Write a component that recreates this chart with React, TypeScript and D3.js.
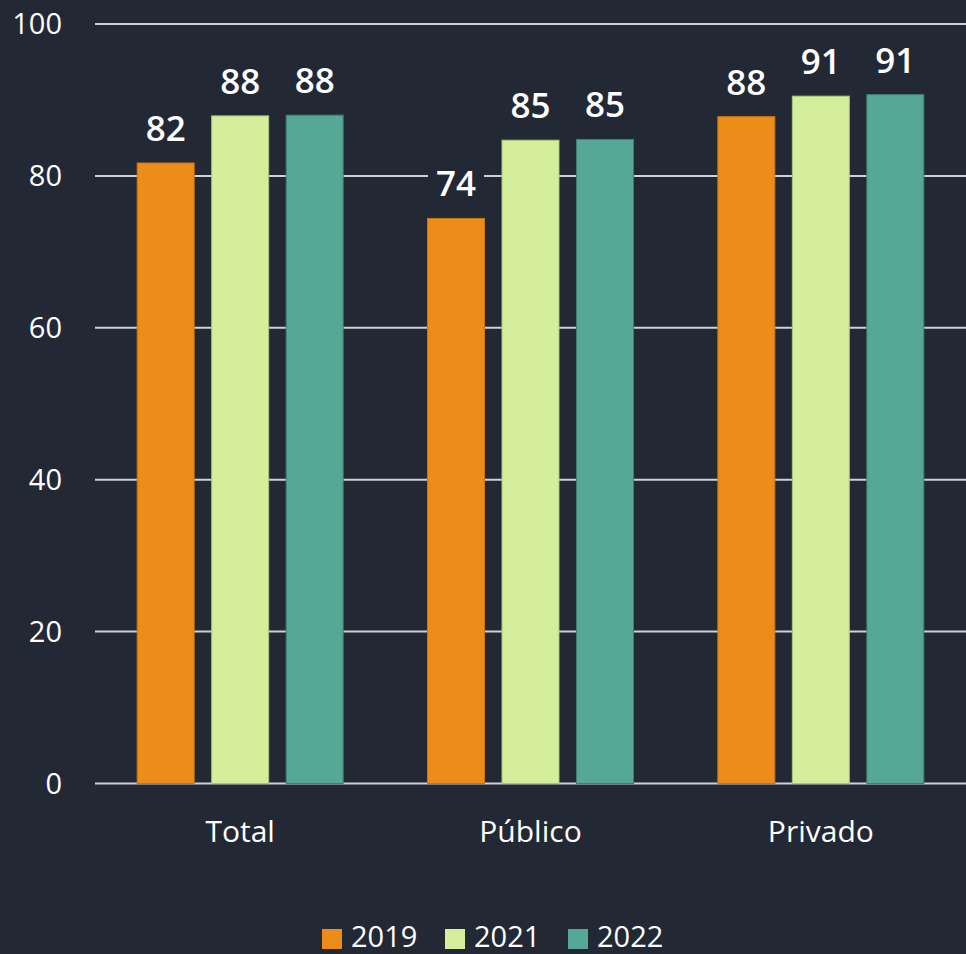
import React, { useEffect } from 'react';
import * as d3 from 'd3';

// Chart data (labels shown rounded)
const categories = ['Total', 'Público', 'Privado'];
const years = ['2019', '2021', '2022'];
const values2019 = [81.7, 74.4, 87.8];
const values2021 = [87.9, 84.7, 90.5];
const values2022 = [88.0, 84.8, 90.7];
const yTicks = [0, 20, 40, 60, 80, 100];

const seriesValues = [values2019, values2021, values2022];
const colors = ['#ee8c1a', '#d5ee9c', '#55a896'];
const strokes = ['#c97410', '#a9c47a', '#3f7f72'];

const W = 966;
const H = 954;
const BG = '#222935';
const FONT = '"Open Sans", "Noto Sans", sans-serif';

const App: React.FC = () => {
  useEffect(() => {
    document.body.style.margin = '0';
    document.body.style.background = BG;
  }, []);

  const x0 = d3.scaleBand<string>().domain(categories).range([95, 966]);
  const x1 = d3
    .scaleBand<string>()
    .domain(years)
    .range([0, x0.bandwidth()])
    .paddingInner(0.235)
    .paddingOuter(0.566);
  const y = d3.scaleLinear().domain([0, 100]).range([783.5, 24]);

  return (
    <svg width={W} height={H} style={{ display: 'block', background: BG }} fontFamily={FONT}>
      <rect x={0} y={0} width={W} height={H} fill={BG} />

      {/* gridlines and y ticks */}
      {yTicks.map((t) => (
        <g key={t}>
          <line x1={95} x2={W} y1={y(t)} y2={y(t)} stroke="#cfd1d4" strokeWidth={2} />
          <text x={62} y={y(t)} dy="0.36em" textAnchor="end" fill="#ffffff" fontSize={29}>
            {t}
          </text>
        </g>
      ))}

      {/* bars */}
      {categories.map((c, ci) => (
        <g key={c} transform={`translate(${x0(c)},0)`}>
          {years.map((yr, si) => {
            const v = seriesValues[si][ci];
            const bx = x1(yr) as number;
            return (
              <rect
                key={yr}
                x={bx}
                y={y(v)}
                width={x1.bandwidth()}
                height={y(0) - y(v)}
                fill={colors[si]}
                stroke={strokes[si]}
                strokeWidth={1}
              />
            );
          })}
        </g>
      ))}

      {/* value labels with background */}
      {categories.map((c, ci) => (
        <g key={c} transform={`translate(${x0(c)},0)`}>
          {years.map((yr, si) => {
            const v = seriesValues[si][ci];
            const cx = (x1(yr) as number) + x1.bandwidth() / 2;
            const base = y(v) - 22;
            return (
              <g key={yr}>
                <rect x={cx - 28} y={base - 32} width={56} height={40} fill={BG} />
                <text
                  x={cx}
                  y={base}
                  textAnchor="middle"
                  fill="#ffffff"
                  fontSize={35}
                  fontWeight={600}
                >
                  {Math.round(v)}
                </text>
              </g>
            );
          })}
        </g>
      ))}

      {/* category labels */}
      {categories.map((c) => (
        <text
          key={c}
          x={(x0(c) as number) + x0.bandwidth() / 2}
          y={842}
          textAnchor="middle"
          fill="#ffffff"
          fontSize={30}
        >
          {c}
        </text>
      ))}

      {/* legend */}
      {years.map((yr, i) => (
        <g key={yr} transform={`translate(${322 + i * 123},0)`}>
          <rect x={0} y={929} width={20} height={20} fill={colors[i]} />
          <text x={29} y={947} fill="#ffffff" fontSize={29}>
            {yr}
          </text>
        </g>
      ))}
    </svg>
  );
};

export default App;
